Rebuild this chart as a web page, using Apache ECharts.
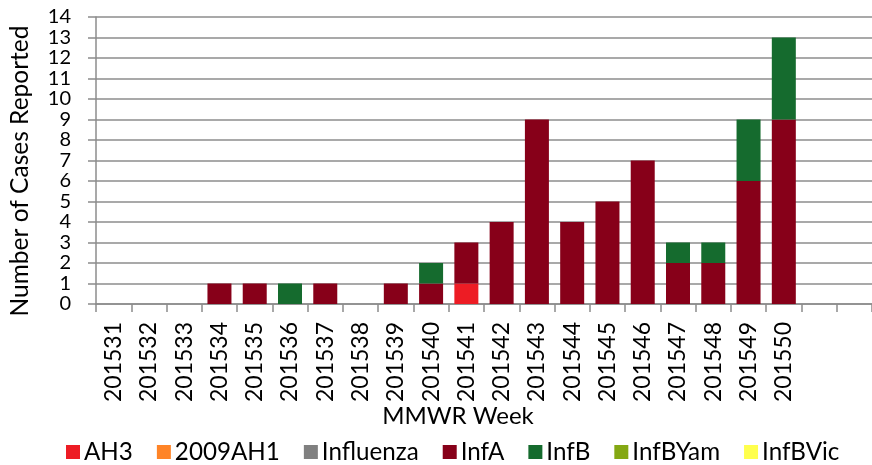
<!DOCTYPE html>
<html>
<head>
<meta charset="utf-8">
<script src="https://cdn.jsdelivr.net/npm/echarts@6/dist/echarts.min.js"></script>
<style>
  html, body { margin: 0; padding: 0; background: #fff; }
  #main { width: 872px; height: 465px; }
</style>
</head>
<body>
<div id="main"></div>
<script>
// MMWR weeks shown on the x axis (two blank slots follow on the right)
var weeks = ['201531', '201532', '201533', '201534', '201535', '201536', '201537',
             '201538', '201539', '201540', '201541', '201542', '201543', '201544',
             '201545', '201546', '201547', '201548', '201549', '201550'];
var blankSlots = ['', ''];

// cases per week, one array per virus type
var ah3      = [0, 0, 0, 0, 0, 0, 0, 0, 0, 0, 1, 0, 0, 0, 0, 0, 0, 0, 0, 0];
var h1_2009  = [0, 0, 0, 0, 0, 0, 0, 0, 0, 0, 0, 0, 0, 0, 0, 0, 0, 0, 0, 0];
var influenza= [0, 0, 0, 0, 0, 0, 0, 0, 0, 0, 0, 0, 0, 0, 0, 0, 0, 0, 0, 0];
var infA     = [0, 0, 0, 1, 1, 0, 1, 0, 1, 1, 2, 4, 9, 4, 5, 7, 2, 2, 6, 9];
var infB     = [0, 0, 0, 0, 0, 1, 0, 0, 0, 1, 0, 0, 0, 0, 0, 0, 1, 1, 3, 4];
var infBYam  = [0, 0, 0, 0, 0, 0, 0, 0, 0, 0, 0, 0, 0, 0, 0, 0, 0, 0, 0, 0];
var infBVic  = [0, 0, 0, 0, 0, 0, 0, 0, 0, 0, 0, 0, 0, 0, 0, 0, 0, 0, 0, 0];

var yTicks = { min: 0, max: 14, step: 1 };

var font = 'Lato';
var gridColor = '#8c8c8c';

var chartDom = document.getElementById('main');
var myChart = echarts.init(chartDom);

function stackSeries(name, data, color) {
    return {
        name: name,
        type: 'bar',
        stack: 'cases',
        barWidth: 24,
        data: data.map(function (v) { return v === 0 ? null : v; }),
        itemStyle: { color: color },
        emphasis: { disabled: true }
    };
}

var option = {
    animation: false,
    textStyle: { fontFamily: font },
    grid: { left: 96, top: 17, bottom: 161, width: 779, containLabel: false },
    legend: {
        left: 66,
        top: 440,
        padding: 0,
        itemWidth: 14,
        itemHeight: 14,
        itemGap: 24,
        icon: 'rect',
        textStyle: { fontFamily: font, fontSize: 24.2, color: '#000', padding: [0, 0, 0, -1] },
        data: ['AH3', '2009AH1', 'Influenza', 'InfA', 'InfB', 'InfBYam', 'InfBVic']
    },
    xAxis: {
        type: 'category',
        data: weeks.concat(blankSlots),
        axisLine: { lineStyle: { color: gridColor, width: 1.5 } },
        axisTick: { show: true, length: 8, interval: 0, lineStyle: { color: gridColor, width: 1.5 } },
        axisLabel: {
            interval: 0,
            rotate: 90,
            margin: 18,
            fontSize: 23,
            color: '#000',
            fontFamily: font
        }
    },
    yAxis: {
        type: 'value',
        min: yTicks.min,
        max: yTicks.max,
        interval: yTicks.step,
        axisLine: { show: true, lineStyle: { color: gridColor, width: 1.5 } },
        axisTick: { show: true, length: 8, lineStyle: { color: gridColor, width: 1.5 } },
        splitLine: { lineStyle: { color: gridColor, width: 1.5 } },
        axisLabel: {
            margin: 25, fontSize: 20, color: '#000', fontFamily: font,
            showMinLabel: true, showMaxLabel: true, hideOverlap: false
        }
    },
    graphic: [
        {
            type: 'text',
            x: 20, y: 171,
            rotation: Math.PI / 2,
            style: {
                text: 'Number of Cases Reported',
                fontFamily: font, fontSize: 24.5, fill: '#000',
                align: 'center', verticalAlign: 'middle'
            }
        },
        {
            type: 'text',
            x: 458, y: 416,
            style: {
                text: 'MMWR Week',
                fontFamily: font, fontSize: 24, fill: '#000',
                align: 'center', verticalAlign: 'middle'
            }
        }
    ],
    series: [
        stackSeries('AH3', ah3, '#ed1c24'),
        stackSeries('2009AH1', h1_2009, '#ff8427'),
        stackSeries('Influenza', influenza, '#808080'),
        stackSeries('InfA', infA, '#870019'),
        stackSeries('InfB', infB, '#156b2e'),
        stackSeries('InfBYam', infBYam, '#84a813'),
        stackSeries('InfBVic', infBVic, '#ffff4d')
    ]
};

option && myChart.setOption(option);
</script>
</body>
</html>
